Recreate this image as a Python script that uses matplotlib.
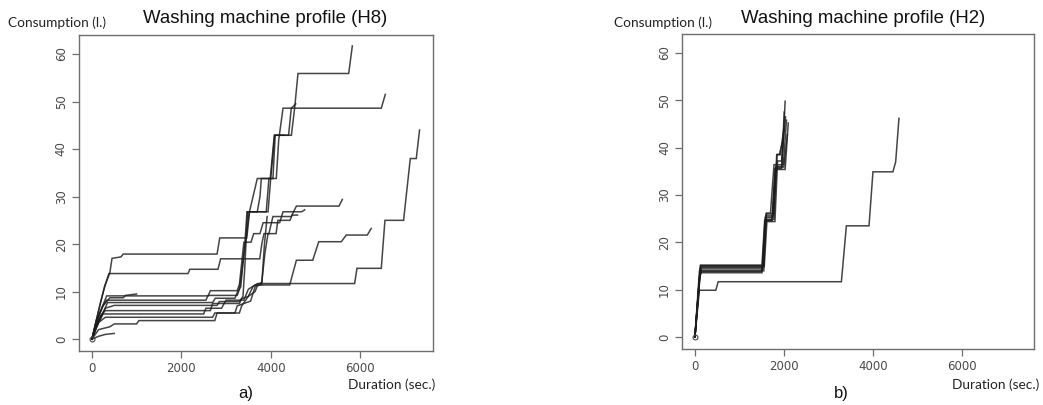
import matplotlib; matplotlib.use("Agg")
import matplotlib.pyplot as plt

# ── cumulative consumption curves: (duration sec., consumption l.) ────────────

H8_CURVES = [
    [(0, 0), (120, 4), (250, 7.2), (330, 8.2), (2550, 8.2), (2600, 9.2), (3250, 9.2), (3300, 10.5),
     (3440, 20.5), (3516, 26.8), (3941, 26.8), (4000, 33.8), (4090, 42.9), (4463, 42.9), (4540, 49),
     (4610, 55.9), (5745, 55.9), (5826, 61.7)],
    [(0, 0), (150, 6), (280, 11), (400, 13.9), (450, 17), (650, 17.3), (700, 17.9), (2800, 17.9),
     (2860, 21.3), (3465, 21.3), (3530, 27), (3700, 33.8), (4125, 33.8), (4180, 42), (4276, 48.6),
     (6474, 48.6), (6564, 51.5)],
    [(0, 0), (100, 4), (200, 8), (300, 11.5), (380, 13.8), (2150, 13.8), (2190, 14.7), (2820, 14.7),
     (2880, 16.9), (3755, 16.9), (3800, 20), (3850, 22.2), (3960, 22.2), (4050, 25.8), (4460, 25.8),
     (4575, 28.0), (5528, 28.0), (5603, 29.4)],
    [(0, 0), (80, 3), (200, 6), (330, 9.1), (2600, 9.1), (2650, 10.2), (3250, 10.2), (3300, 11.5),
     (3400, 20.4), (3560, 20.4), (3620, 22.2), (3760, 22.2), (3830, 24.5), (4200, 24.5), (4276, 26.8),
     (4690, 26.8), (4760, 27.2)],
    [(0, 0), (100, 2.5), (250, 5.5), (350, 7.7), (2700, 7.7), (2760, 8.6), (3200, 8.6), (3260, 10),
     (3330, 11), (3420, 20), (3470, 26.8), (3700, 26.8), (3760, 30), (3790, 33.8), (3990, 33.8),
     (4080, 42.9), (4400, 42.9), (4460, 48.6), (4560, 49.5)],
    [(0, 0), (100, 3), (200, 5), (300, 6), (2650, 6), (2700, 7.5), (3300, 7.5), (3350, 8.5), (3500, 9),
     (3600, 11), (3700, 11.7), (5878, 11.7), (5930, 14.9), (6474, 14.9), (6556, 25.0), (6973, 25.0),
     (7123, 38.0), (7257, 38.0), (7330, 44.0)],
    [(0, 0), (120, 3), (250, 5.3), (2500, 5.3), (2550, 6.5), (2900, 6.5), (3000, 8.2), (3400, 8.2),
     (3500, 10.5), (3650, 11.4), (4425, 11.4), (4575, 16.6), (4940, 16.6), (5075, 20.5), (5580, 20.5),
     (5690, 21.9), (6160, 21.9), (6250, 23.3)],
    [(0, 0), (150, 3.5), (300, 4.6), (2700, 4.6), (2750, 5.5), (3200, 5.5), (3250, 7), (3550, 8),
     (3650, 11), (3800, 12), (3870, 18), (3940, 22.2), (4120, 22.2), (4160, 25), (4430, 25),
     (4480, 26.1), (4600, 26.1)],
    [(0, 0), (150, 2), (400, 2.6), (500, 3.2), (1000, 3.2), (1050, 3.9), (2750, 3.9), (2800, 5.5),
     (3300, 5.5), (3350, 7), (3500, 9), (3650, 10), (3700, 11.2), (3800, 11.5), (3860, 20), (3920, 25.8)],
    [(0, 0), (100, 4), (250, 7), (400, 8.7), (700, 8.7), (750, 9.2), (1000, 9.5)],
    [(0, 0), (150, 0.6), (300, 1.0), (500, 1.2)],
    [(0, 0), (150, 4), (300, 6.5), (500, 7.1), (2800, 7.1), (2850, 7.9), (3300, 7.9), (3380, 9),
     (3420, 15), (3480, 26.8), (3900, 26.8), (3960, 33.8), (4050, 33.8), (4100, 42.9), (4300, 42.9)],
]

H2_CURVES = [
    [(0, 0), (110, 13.4), (130, 15.1), (1540, 15.1), (1600, 25.6), (1760, 25.6), (1830, 36.0),
     (1960, 36.0), (2030, 49.8)],
    [(0, 0), (110, 13.0), (140, 14.7), (1530, 14.7), (1590, 24.6), (1740, 24.6), (1800, 35.6),
     (1950, 35.6), (2010, 47.5)],
    [(0, 0), (100, 12.5), (150, 14.4), (1520, 14.4), (1610, 26.2), (1700, 26.2), (1780, 36.4),
     (1990, 36.4), (2060, 45.8)],
    [(0, 0), (120, 13.3), (145, 14.0), (1550, 14.0), (1590, 24.9), (1780, 24.9), (1840, 38.5),
     (1920, 38.5), (2000, 44.0)],
    [(0, 0), (105, 12.8), (130, 13.6), (1510, 13.6), (1580, 25.3), (1750, 25.3), (1820, 35.9),
     (2000, 35.9), (2080, 42.8)],
    [(0, 0), (115, 13.6), (135, 14.9), (1560, 14.9), (1620, 24.4), (1800, 24.4), (1860, 37.2),
     (1950, 37.2), (2040, 46.5)],
    [(0, 0), (110, 12.7), (150, 13.9), (1500, 13.9), (1570, 24.7), (1730, 24.7), (1810, 35.4),
     (2030, 35.4), (2100, 45.2)],
    [(0, 0), (100, 13.8), (125, 15.2), (1545, 15.2), (1600, 26.0), (1770, 26.0), (1850, 38.6),
     (1900, 38.6), (1980, 41.5)],
    [(0, 0), (100, 9.9), (470, 9.9), (524, 11.7), (3296, 11.7), (3408, 23.5), (3917, 23.5),
     (4006, 34.9), (4455, 34.9), (4517, 37.0), (4591, 46.2)],
]

X_TICKS = [0, 2000, 4000, 6000]
Y_TICKS = [0, 10, 20, 30, 40, 50, 60]

FRAME = "#6e6e6e"
TICK_TXT = "#4a4a4a"
LINE = "#1c1c1c"


# ── drawing ───────────────────────────────────────────────────────────────────

def draw_panel(fig, rect, curves, title, tag, ylab_x, title_x, dur_x, tag_x):
    ax = fig.add_axes(rect)
    for c in curves:
        xs = [p[0] for p in c]
        ys = [p[1] for p in c]
        ax.plot(xs, ys, color=LINE, lw=1.1, alpha=0.82, solid_joinstyle="miter")
    ax.plot([0], [0], "o", mfc="none", mec="#444444", ms=3.5, mew=0.8)

    ax.set_xlim(-290, 7630)
    ax.set_ylim(-2.5, 64)
    ax.set_xticks(X_TICKS)
    ax.set_yticks(Y_TICKS)
    ax.set_xticklabels([str(v) for v in X_TICKS])
    ax.set_yticklabels([str(v) for v in Y_TICKS], rotation=90, va="center")
    ax.tick_params(direction="out", length=5, width=0.9, color=FRAME,
                   labelsize=8.5, labelcolor=TICK_TXT, pad=3)
    for s in ax.spines.values():
        s.set_color(FRAME); s.set_linewidth(1.0)

    fig.text(ylab_x, 0.943, "Consumption (l.)", family="Lato", fontsize=9.8,
             color="#222222", ha="left", va="center")
    fig.text(title_x, 0.955, title, family="Liberation Sans", fontsize=13.4,
             color="#111111", ha="center", va="center")
    fig.text(dur_x, 0.05, "Duration (sec.)", family="Lato", fontsize=9.8,
             color="#222222", ha="left", va="center")
    fig.text(tag_x, 0.028, tag, family="Liberation Sans", fontsize=12,
             color="#111111", ha="center", va="center")
    return ax


def main():
    fig = plt.figure(figsize=(10.43, 4.05), dpi=100)
    fig.patch.set_facecolor("white")

    draw_panel(fig, [0.0757, 0.1333, 0.3394, 0.7803], H8_CURVES,
               "Washing machine profile (H8)", "a)",
               ylab_x=8 / 1043, title_x=265 / 1043, dur_x=348 / 1043, tag_x=246 / 1043)
    draw_panel(fig, [0.6539, 0.1383, 0.3375, 0.7778], H2_CURVES,
               "Washing machine profile (H2)", "b)",
               ylab_x=614 / 1043, title_x=863 / 1043, dur_x=952 / 1043, tag_x=841 / 1043)

    fig.savefig("out.png", dpi=100)
    plt.close(fig)


if __name__ == "__main__":
    main()
